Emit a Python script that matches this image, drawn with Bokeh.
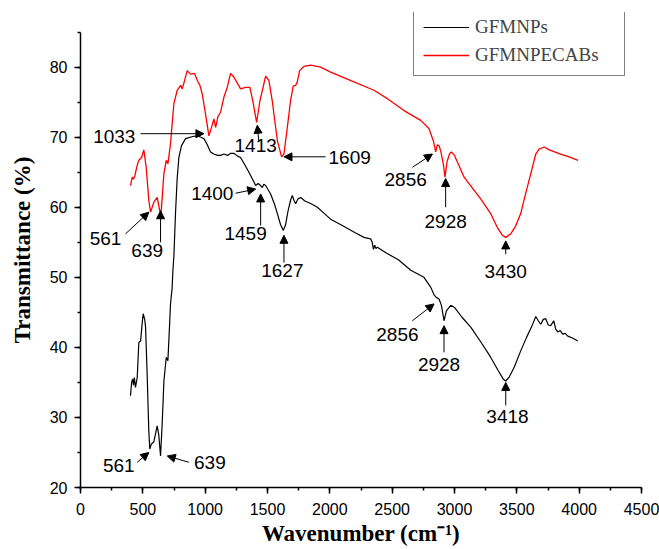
from bokeh.plotting import figure
from bokeh.models import (Range1d, SingleIntervalTicker, Arrow, NormalHead,
                          ColumnDataSource, Legend, LegendItem)
from bokeh.core.properties import value
from bokeh.embed import file_html
from bokeh.resources import INLINE

# ---- data ----
wn_gfmnps = [401, 410, 418, 425, 432, 441, 455, 468, 482, 495, 503, 515, 522, 535, 548, 556,
             568, 588, 600, 615, 628, 642, 655, 669, 688, 701, 714, 722, 735, 741, 749, 762,
             775, 789, 810, 843, 900, 937, 965, 990, 1015, 1043, 1070, 1100, 1124, 1150, 1180,
             1204, 1230, 1260, 1284, 1320, 1351, 1380, 1405, 1425, 1445, 1459, 1470, 1485, 1505,
             1525, 1555, 1579, 1605, 1627, 1645, 1665, 1685, 1699, 1712, 1726, 1745, 1766, 1800,
             1850, 1900, 1950, 2006, 2100, 2200, 2274, 2327, 2340, 2350, 2360, 2370, 2381, 2450,
             2550, 2649, 2755, 2809, 2836, 2856, 2876, 2895, 2916, 2935, 2970, 3000, 3060, 3130,
             3210, 3290, 3350, 3390, 3411, 3440, 3480, 3531, 3580, 3620, 3652, 3672, 3692, 3712,
             3732, 3752, 3772, 3796, 3812, 3828, 3848, 3868, 3888, 3909, 3950, 3989]
t_gfmnps = [33.1, 35.0, 35.5, 34.6, 35.7, 34.3, 35.7, 40.7, 40.9, 43.5, 44.8, 44.0, 42.9, 36.0,
            28.0, 25.5, 26.2, 26.5, 27.5, 28.8, 27.5, 24.5, 29.0, 35.2, 38.6, 38.1, 43.0, 46.2,
            48.5, 50.9, 53.0, 59.1, 64.0, 67.1, 68.8, 69.8, 70.1, 70.2, 70.0, 69.8, 69.0, 67.9,
            67.6, 67.4, 67.4, 67.6, 67.4, 67.7, 67.7, 67.3, 67.1, 66.0, 65.0, 64.0, 63.1, 63.4,
            63.1, 62.8, 63.3, 63.1, 62.5, 61.9, 60.5, 59.1, 57.5, 56.7, 57.5, 59.5, 61.0, 61.7,
            61.0, 60.5, 61.2, 61.4, 60.9, 60.5, 60.0, 59.2, 58.3, 57.4, 56.4, 55.7, 55.5, 55.0,
            54.0, 54.6, 54.1, 54.3, 53.5, 52.5, 51.0, 50.0, 48.6, 47.5, 47.1, 46.9, 46.0, 43.8,
            45.2, 46.0, 45.7, 44.3, 42.9, 40.8, 38.6, 36.7, 35.5, 35.2, 35.8, 37.2, 39.5, 41.5,
            43.0, 44.4, 43.8, 43.3, 44.0, 44.1, 43.2, 43.1, 43.8, 42.6, 42.2, 42.4, 41.9, 42.0,
            41.6, 41.3, 40.9]

wn_gfmnpecabs = [401, 415, 425, 436, 455, 468, 490, 508, 527, 548, 562, 588, 615, 636, 647, 669,
                 688, 701, 722, 749, 776, 803, 816, 835, 856, 883, 915, 937, 958, 976, 1003, 1030,
                 1051, 1070, 1084, 1102, 1124, 1150, 1177, 1204, 1230, 1284, 1324, 1359, 1386,
                 1413, 1439, 1485, 1511, 1538, 1579, 1613, 1632, 1659, 1685, 1706, 1726, 1739,
                 1758, 1792, 1846, 1926, 2006, 2140, 2354, 2462, 2595, 2729, 2796, 2830, 2849,
                 2862, 2876, 2890, 2912, 2924, 2940, 2960, 2975, 3000, 3077, 3150, 3210, 3290,
                 3344, 3385, 3411, 3451, 3490, 3531, 3570, 3612, 3652, 3679, 3719, 3760, 3850,
                 3920, 3991]
t_gfmnpecabs = [63.1, 64.3, 64.0, 64.5, 66.0, 66.7, 67.1, 68.2, 65.7, 61.0, 59.3, 60.7, 61.4,
                59.5, 59.3, 64.8, 66.7, 66.2, 69.1, 74.8, 76.7, 77.4, 76.9, 78.1, 79.5, 79.0,
                79.1, 78.1, 77.4, 76.2, 73.3, 70.2, 71.4, 72.6, 71.4, 72.9, 73.6, 75.7, 77.1,
                79.1, 78.6, 76.9, 77.1, 77.1, 74.8, 72.1, 75.2, 78.7, 78.1, 75.2, 69.5, 67.2,
                67.6, 71.4, 75.2, 77.3, 77.4, 77.9, 79.5, 80.1, 80.3, 80.0, 79.3, 78.3, 76.7,
                75.5, 73.8, 72.4, 71.2, 69.5, 67.9, 68.9, 68.8, 68.0, 66.0, 64.3, 66.5, 67.6,
                67.9, 67.4, 64.3, 62.6, 61.2, 59.1, 57.1, 56.0, 55.7, 56.2, 57.3, 59.1, 61.9,
                64.8, 67.6, 68.3, 68.6, 68.2, 67.6, 67.2, 66.7]

series_names = ["GFMNPs", "GFMNPECABs"]
x_title = "Wavenumber (cm\u207b\u00b9)"
y_title = "Transmittance (%)"

# peak labels: text, label position, arrow tail, arrow head (data units)
peak_text = ["1033", "1413", "1609", "2856", "2928", "3430", "561", "639",
             "1400", "1459", "1627", "561", "639", "2856", "2928", "3418"]
peak_tx = [271, 1405, 2159, 2608, 2929, 3411, 201, 535,
           1057, 1324, 1619, 307, 1038, 2542, 2876, 3425]
peak_ty = [70.1, 68.8, 67.1, 64.0, 58.0, 50.9, 55.5, 53.8,
           61.9, 56.2, 51.0, 23.1, 23.6, 41.9, 37.6, 30.2]
arrow_x0 = [482, 1431, 1966, 2662, 2929, 3411, 361, 642,
            1244, 1445, 1632, 455, 869, 2662, 2916, 3411]
arrow_y0 = [70.5, 69.3, 67.2, 65.7, 60.0, 53.3, 56.2, 55.0,
            62.0, 57.4, 52.1, 23.6, 23.6, 43.8, 39.3, 31.7]
arrow_x1 = [990, 1418, 1632, 2823, 2929, 3411, 548, 642,
            1405, 1445, 1632, 548, 696, 2836, 2916, 3411]
arrow_y1 = [70.5, 71.7, 67.2, 67.6, 64.1, 55.2, 59.3, 59.5,
            62.6, 61.9, 56.0, 25.0, 24.5, 46.2, 43.1, 35.0]

p = figure(width=659, height=549, x_range=Range1d(0, 4500), y_range=Range1d(20, 87.8),
           output_backend="svg", toolbar_location=None, title=None,
           min_border_left=80, min_border_right=18, min_border_top=12, min_border_bottom=62)
p.outline_line_color = None
p.xgrid.visible = False
p.ygrid.visible = False
p.background_fill_color = "white"

r1 = p.line(wn_gfmnps, t_gfmnps, line_color="black", line_width=1.2)
r2 = p.line(wn_gfmnpecabs, t_gfmnpecabs, line_color="red", line_width=1.3)

p.text(x=peak_tx, y=peak_ty, text=peak_text, text_font=value("Liberation Sans"),
       text_font_size="19px", text_align="center", text_baseline="middle", text_color="black")

asrc = ColumnDataSource(dict(x0=arrow_x0, y0=arrow_y0, x1=arrow_x1, y1=arrow_y1))
p.add_layout(Arrow(source=asrc, x_start="x0", y_start="y0", x_end="x1", y_end="y1",
                   line_color="black", line_width=1,
                   end=NormalHead(size=8, fill_color="black", line_color="black", line_width=1)))

for ax in (p.xaxis[0], p.yaxis[0]):
    ax.axis_line_width = 1.5
    ax.major_tick_line_width = 1.5
    ax.minor_tick_line_width = 1.5
    ax.major_tick_in = 0
    ax.major_tick_out = 6
    ax.minor_tick_in = 0
    ax.minor_tick_out = 3
    ax.major_label_text_font = "Liberation Sans"
    ax.major_label_text_font_size = "16px"
    ax.major_label_text_color = "black"
    ax.axis_label_text_font = "Liberation Serif"
    ax.axis_label_text_font_style = "bold"
    ax.axis_label_text_font_size = "23px"
    ax.axis_label_text_color = "black"

p.xaxis[0].ticker = SingleIntervalTicker(interval=500, num_minor_ticks=2)
p.yaxis[0].ticker = SingleIntervalTicker(interval=10, num_minor_ticks=2)
p.yaxis[0].bounds = (20, 85)
p.xaxis[0].bounds = (0, 4500)
p.xaxis[0].axis_label = x_title
p.yaxis[0].axis_label = y_title
p.xaxis[0].major_label_standoff = 9
p.xaxis[0].axis_label_standoff = 3
p.yaxis[0].major_label_standoff = 7
p.yaxis[0].axis_label_standoff = 12

legend = Legend(items=[LegendItem(label=series_names[0], renderers=[r1]),
                       LegendItem(label=series_names[1], renderers=[r2])],
                location=(333, 411), border_line_color="black", border_line_width=1,
                background_fill_color="white", background_fill_alpha=1,
                label_text_font="Liberation Serif", label_text_font_size="19px",
                glyph_width=46, glyph_height=20, label_height=20, label_width=140,
                spacing=6, padding=9, margin=0, label_standoff=6)
p.add_layout(legend)

open("out.html", "w").write(file_html(p, INLINE))
